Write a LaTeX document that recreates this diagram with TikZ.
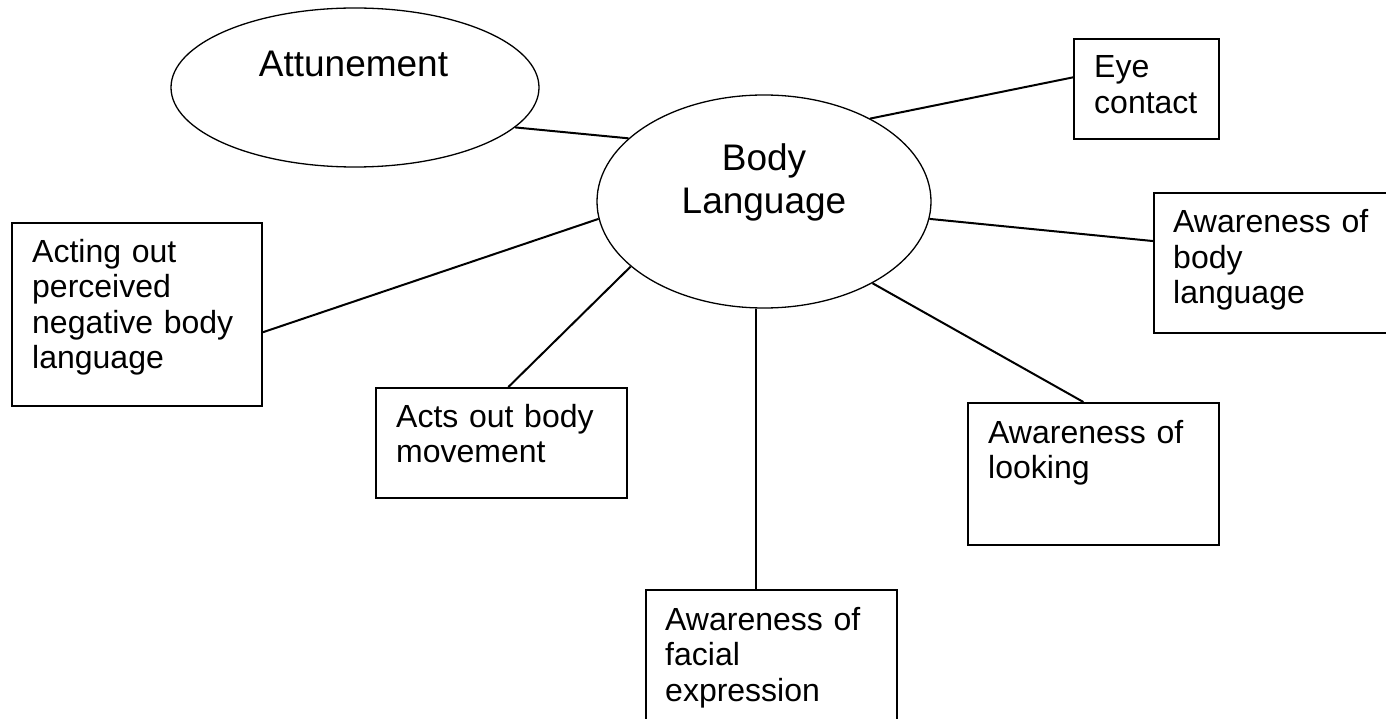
\documentclass[tikz,border=0pt]{standalone}
\usepackage{fontspec}
\setmainfont{Liberation Sans}
\usetikzlibrary{shapes.geometric}
\tikzset{
  boxnode/.style={draw, rectangle, line width=2pt, inner sep=0pt, anchor=north west},
  ellnode/.style={draw, ellipse, line width=1.3pt, inner sep=0pt},
  boxtext/.style={anchor=base west, inner sep=0pt, align=left, text width=240pt, font=\fontsize{32}{35.5}\selectfont},
  elltext/.style={anchor=base, inner sep=0pt, align=center, text width=320pt, font=\fontsize{37}{43}\selectfont},
  link/.style={line width=2pt}
}
\begin{document}
\begin{tikzpicture}[x=1pt, y=-1pt]
\useasboundingbox[fill=white] (0,0) rectangle (1386,719);
\clip (0,0) rectangle (1386,719);

% ellipses
\node[ellnode, minimum width=368pt, minimum height=159pt] (att) at (355,87.5) {};
\node[elltext] (attt) at (353.5,77) {Attunement};
\node[ellnode, minimum width=334pt, minimum height=213pt] (bl) at (764,201.5) {};
\node[elltext] (blt) at (764,171) {Body\\Language};

% boxes
\node[boxnode, minimum width=145pt, minimum height=100pt] (eye) at (1073,38) {};
\node[boxtext] (eyet) at (1094,78) {Eye\\contact};

\node[boxnode, minimum width=247pt, minimum height=140pt] (body) at (1153,192) {};
\node[boxtext] (bodyt) at (1173,233) {Awareness of\\body\\language};

\node[boxnode, minimum width=250pt, minimum height=183pt] (acting) at (11,222) {};
\node[boxtext] (actingt) at (32,262) {Acting out\\perceived\\negative body\\language};

\node[boxnode, minimum width=251pt, minimum height=110pt] (acts) at (375,387) {};
\node[boxtext] (actst) at (396,427) {Acts out body\\movement};

\node[boxnode, minimum width=251pt, minimum height=142pt] (look) at (967,402) {};
\node[boxtext] (lookt) at (988,443) {Awareness of\\looking};

\node[boxnode, minimum width=251pt, minimum height=140pt] (face) at (645,589) {};
\node[boxtext] (facet) at (665,630) {Awareness of\\facial\\expression};

% connectors
\draw[link] (bl.155.45) -- (att.-14.5);
\draw[link] (bl.38.8) -- (eye.171.4);
\draw[link] (bl.-6.6) -- (body.170.35);
\draw[link] (bl.186.7) -- (acting.-8.42);
\draw[link] (bl.206.9) -- (acts.83.3);
\draw[link] (face.102) -- (face.102 |- bl.south);
\draw[link] (bl.-37.1) -- (look.98.4);
\end{tikzpicture}
\end{document}
